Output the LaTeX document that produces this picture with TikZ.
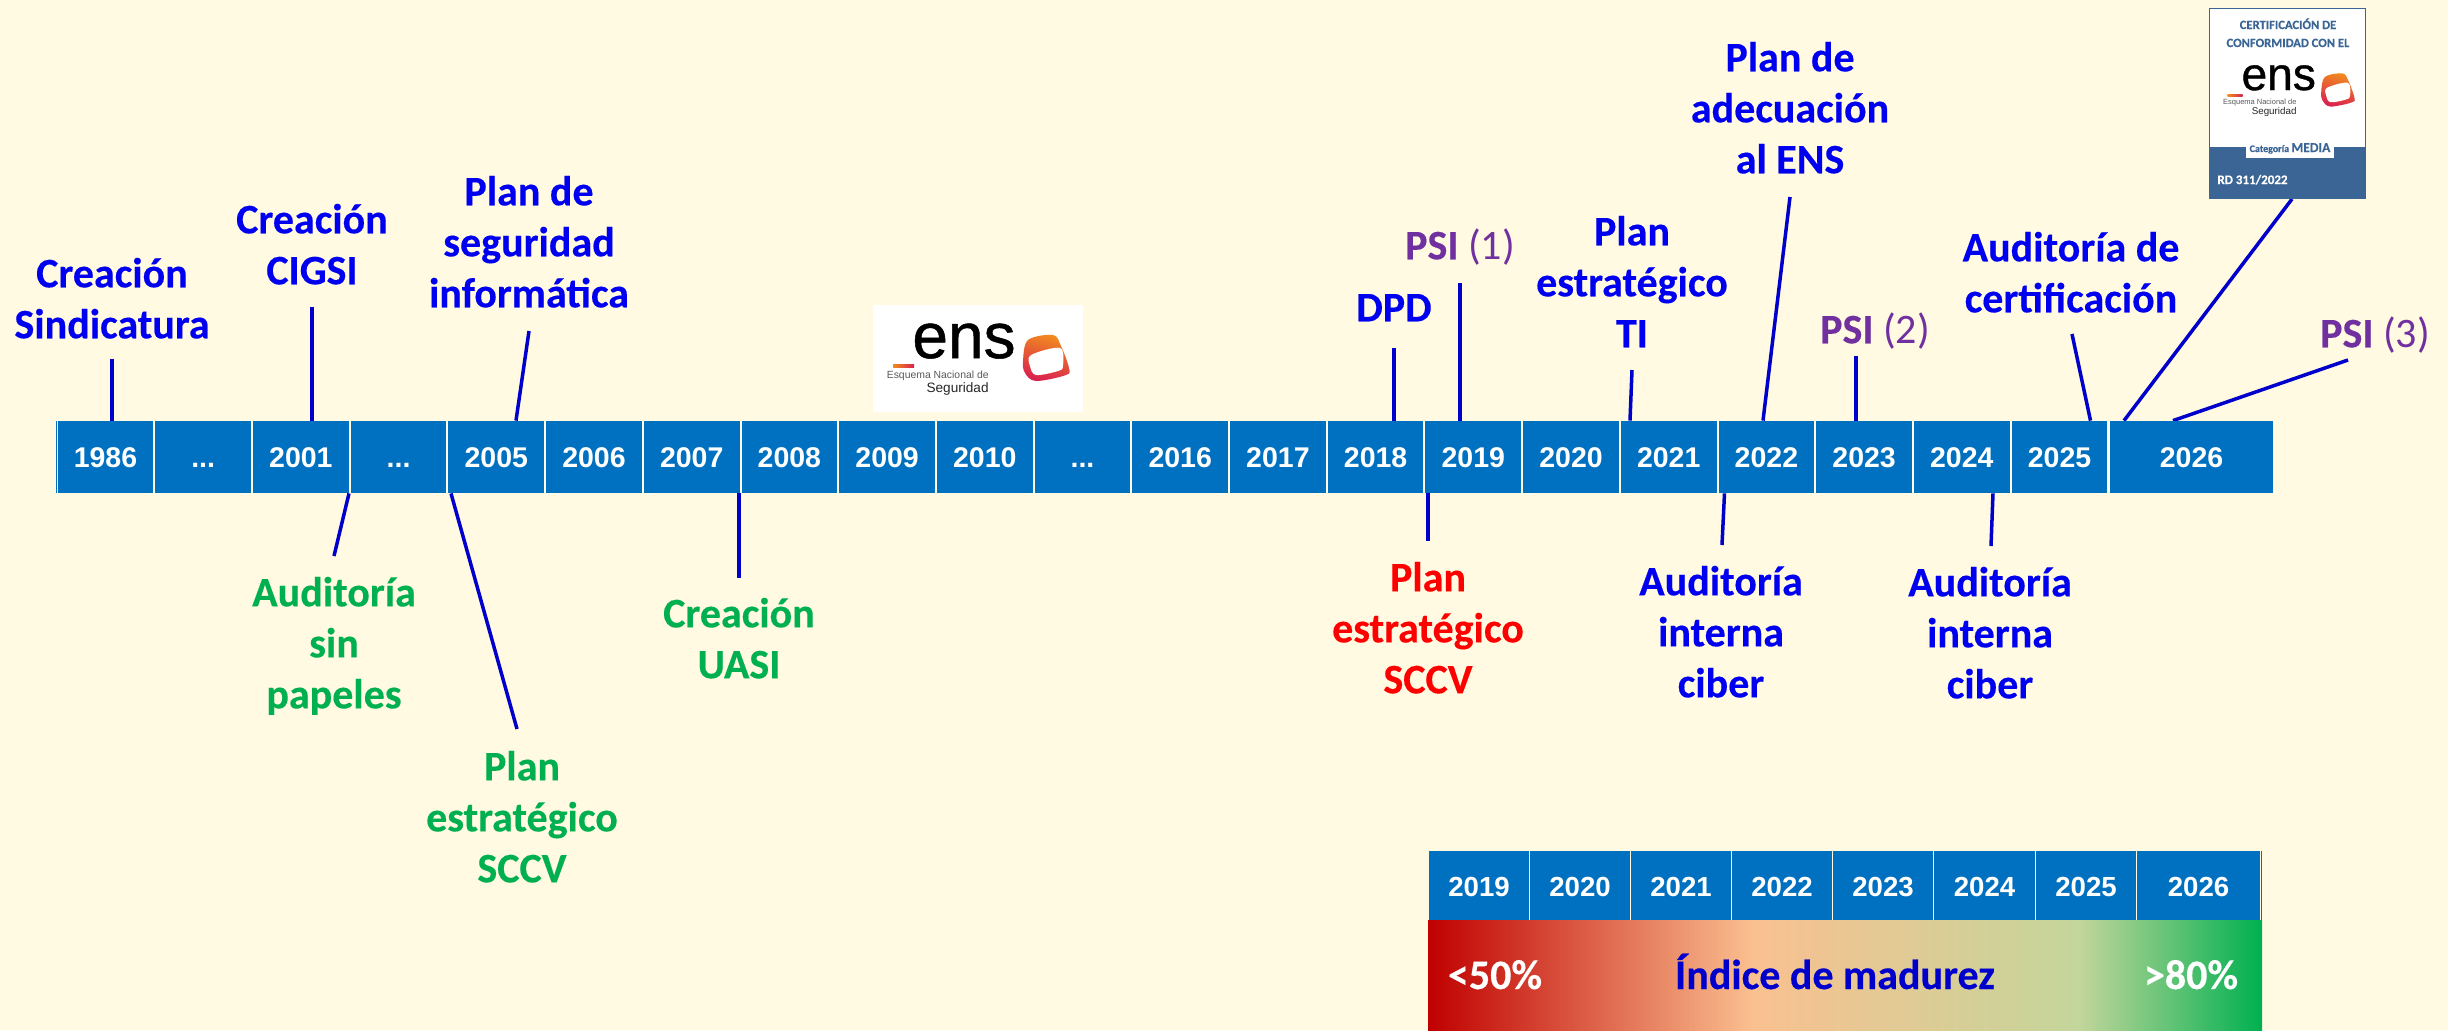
\documentclass[tikz,border=0pt]{standalone}
\usepackage{fontspec}
\setmainfont[BoldFeatures={FakeBold=0.3}]{Carlito}
\newfontfamily\arl{Liberation Sans}
\newfontfamily\ensf[FakeBold=0.8]{Liberation Sans}
\usetikzlibrary{backgrounds,calc}
\definecolor{bgc}{HTML}{FFFAE1}
\definecolor{cell}{HTML}{0070C0}
\definecolor{linec}{HTML}{0000CC}
\definecolor{tblue}{HTML}{0000F0}
\definecolor{tgreen}{HTML}{00B050}
\definecolor{tred}{HTML}{FF0000}
\definecolor{tpurple}{HTML}{7030A0}
\definecolor{badge}{HTML}{3A6595}
\definecolor{gA}{HTML}{C00000}
\definecolor{gB}{HTML}{FAC090}
\definecolor{gC}{HTML}{C3D69B}
\definecolor{gD}{HTML}{00B050}
\definecolor{logoO}{HTML}{F28C1E}
\definecolor{logoR}{HTML}{D9224F}
\pgfdeclarehorizontalshading{madurez}{100bp}{color(0bp)=(gA); color(25bp)=(gA); color(44.5bp)=(gB); color(64bp)=(gC); color(75bp)=(gD); color(100bp)=(gD)}
\newcommand{\tdots}{...}
\newcommand{\conn}[5]{% cell, anchor, x at the cell, free-end x, free-end y
  \coordinate (end-#1-#2-#4) at (#4,#5);
  \draw[linkline] (#3,0 |- #1.#2) -- (end-#1-#2-#4);}
\tikzset{
  x=.5pt,y=-.5pt,
  linkline/.style={draw=linec,line width=1.75pt},
  yearcell/.style={fill=cell,text=white,inner sep=0,text height=10.5pt,text depth=0pt,minimum height=36pt,font=\arl\bfseries\fontsize{14.25}{17}\selectfont},
  lab/.style={align=center,inner sep=0,anchor=south,yshift=-8pt,font=\fontsize{21}{25.5}\selectfont\bfseries},
  single/.style={inner sep=0,anchor=base,font=\fontsize{21}{25.5}\selectfont\bfseries},
  enslogo/.pic={
    \shade[left color=logoO,right color=logoR] (-20,6) rectangle (1,9);
    \node[inner sep=0,anchor=base west,text=black,font=\ensf\fontsize{32}{32}\selectfont] (-ens) at (-1,0) {ens};
    \node[inner sep=0,anchor=base east,text=black!65,font=\arl\fontsize{5.2}{6}\selectfont] (-esq) at (76,20) {Esquema Nacional de};
    \node[inner sep=0,anchor=base east,text=black!85,font=\arl\fontsize{6.8}{8}\selectfont] (-seg) at (76,34) {Seguridad};
    \shade[top color=logoO,bottom color=logoR,shading angle=-15]
      plot[smooth cycle,tension=.55] coordinates {(115,-18) (140,-23) (148,-12) (156,10) (153,17) (123,23) (112,15) (110,3)};
    \fill[white] plot[smooth cycle,tension=.55] coordinates {(118,-3) (147,-10) (150,8) (145,13) (123,17) (117,8)};
  }
}
\begin{document}
\begin{tikzpicture}
\useasboundingbox (0,0) rectangle (2448,1030);
\begin{scope}[on background layer]
  \fill[bgc] (0,0) rectangle (2448,1030);
\end{scope}

% main time bar
\fill[cell] (55.5,421) rectangle (57,493);
\foreach \nm/\tx [count=\i from 0] in {a1986/1986,ad1/\tdots,a2001/2001,ad2/\tdots,a2005/2005,a2006/2006,a2007/2007,a2008/2008,a2009/2009,a2010/2010,ad3/\tdots,a2016/2016,a2017/2017,a2018/2018,a2019/2019,a2020/2020,a2021/2021,a2022/2022,a2023/2023,a2024/2024,a2025/2025}{
  \pgfmathsetmacro\xx{56+\i*97.7+49.5}
  \node[yearcell,minimum width=47.85pt] (\nm) at (\xx,457) {\tx};
}
\node[yearcell,minimum width=81.5pt] (a2026) at (2191.5,457) {2026};

% lower table
\foreach \le/\ri/\tx in {1429/1529/2019,1530/1630/2020,1631/1731/2021,1732/1832/2022,1833/1933/2023,1934/2035/2024,2036/2136/2025,2137/2260/2026}{
  \pgfmathsetmacro\xx{(\le+\ri)/2}
  \pgfmathsetmacro\ww{(\ri-\le)/2}
  \node[yearcell,minimum width=\ww pt,minimum height=34.5pt,font=\arl\bfseries\fontsize{13.8}{17}\selectfont] (b\tx) at (\xx,885.5) {\tx};
}
\fill[cell] (2260.8,851) rectangle (2262,920);
\shade[shading=madurez] (1428,920) rectangle (2262,1030);
\node[single,text=white] (low) at (1495,989) {<50\%};
\node[single,text=linec] (idx) at (1835,989) {Índice de madurez};
\node[single,text=white] (high) at (2191,989) {>80\%};

% labels above
\node[lab,text=tblue] (l1) at (112,338) {Creación\\Sindicatura\strut};
\node[lab,text=tblue] (l2) at (312,284) {Creación\\CIGSI\strut};
\node[lab,text=tblue] (l3) at (529,307) {Plan de\\seguridad\\informática\strut};
\node[lab,text=tblue] (l4) at (1394,321) {DPD\strut};
\node[lab,text=tpurple] (l5) at (1460,259) {PSI {\mdseries (1)}\strut};
\node[lab,text=tblue] (l6) at (1632,347) {Plan\\estratégico\\TI\strut};
\node[lab,text=tblue] (l7) at (1790,173) {Plan de\\adecuación\\al ENS\strut};
\node[lab,text=tpurple] (l8) at (1875,343) {PSI {\mdseries (2)}\strut};
\node[lab,text=tblue] (l9) at (2071,312) {Auditoría de\\certificación\strut};
\node[lab,text=tpurple] (l10) at (2375,347) {PSI {\mdseries (3)}\strut};

% labels below
\node[lab,text=tgreen] (m1) at (334,708) {Auditoría\\sin\\papeles\strut};
\node[lab,text=tgreen] (m2) at (522,882) {Plan\\estratégico\\SCCV\strut};
\node[lab,text=tgreen] (m3) at (739,678) {Creación\\UASI\strut};
\node[lab,text=tred] (m4) at (1428,693) {Plan\\estratégico\\SCCV\strut};
\node[lab,text=tblue] (m5) at (1721,697) {Auditoría\\interna\\ciber\strut};
\node[lab,text=tblue] (m6) at (1990,698) {Auditoría\\interna\\ciber\strut};

% free-standing ENS logo
\fill[white] (873,305) rectangle (1083,412);
\pic (logoA) at (913,358) {enslogo};

% certification badge
\fill[badge] (2209,8) rectangle (2366,199);
\fill[white] (2210.3,9.3) rectangle (2364.7,147);
\fill[white] (2246,147) rectangle (2334,158);
\node[inner sep=0,anchor=base,text=badge,font=\bfseries\fontsize{6.3}{7}\selectfont] (bd1) at (2288,29) {CERTIFICACIÓN DE};
\node[inner sep=0,anchor=base,text=badge,font=\bfseries\fontsize{6.3}{7}\selectfont] (bd2) at (2288,47) {CONFORMIDAD CON EL};
\pic[scale=.72,transform shape] (logoB) at (2242,90) {enslogo};
\node[inner sep=0,anchor=base,text=badge,font=\bfseries\fontsize{5}{6}\selectfont] (bd3) at (2290,152) {Categoría {\fontsize{6.8}{7}\selectfont MEDIA}};
\node[inner sep=0,anchor=base west,text=white,font=\bfseries\fontsize{6.5}{7}\selectfont] (bd4) at (2217,184) {RD 311/2022};

% connectors
\begin{scope}[on background layer]
\conn{a1986}{north}{112}{112}{359}
\conn{a2001}{north}{312}{312}{307}
\conn{a2005}{north}{516}{529}{331}
\conn{a2018}{north}{1394}{1394}{348}
\conn{a2019}{north}{1460}{1460}{283}
\conn{a2021}{north}{1630}{1632}{370}
\conn{a2022}{north}{1763}{1790}{197}
\conn{a2023}{north}{1856}{1856}{356}
\conn{a2025}{north}{2090.5}{2072}{334}
\conn{a2026}{north}{2124}{2292}{199}
\conn{a2026}{north}{2173}{2348}{360}
\conn{a2001}{south}{349}{334}{556}
\conn{a2005}{south}{451}{517}{729}
\conn{a2008}{south}{739}{739}{578}
\conn{a2019}{south}{1428}{1428}{541}
\conn{a2022}{south}{1724.5}{1722}{545}
\conn{a2024}{south}{1993}{1991}{546}
\end{scope}
\end{tikzpicture}
\end{document}
